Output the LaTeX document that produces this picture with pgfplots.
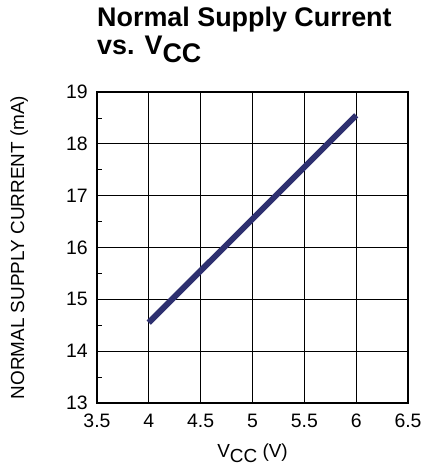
\documentclass[border=0pt]{standalone}
\usepackage{pgfplots}
\pgfplotsset{compat=1.18}
\usepackage{fontspec}
\setmainfont{Liberation Sans}
\definecolor{linenavy}{HTML}{2E3070}
\newcommand{\sub}[1]{\raisebox{-0.27em}{#1}}
\begin{document}
\begin{tikzpicture}[x=1bp,y=1bp]
\path[use as bounding box] (0,0) rectangle (424,468);
\node[anchor=base west,inner sep=0pt,font=\bfseries\fontsize{27}{27}\selectfont] at (97,441) {Normal Supply Current};
\node[anchor=base west,inner sep=0pt,font=\bfseries\fontsize{27}{27}\selectfont] at (97,413) {vs. V\sub{CC}};
\begin{axis}[
  at={(97bp,65bp)}, anchor=south west,
  scale only axis, width=311bp, height=311bp,
  xmin=3.5, xmax=6.5, ymin=13, ymax=19,
  xtick={3.5,4,4.5,5,5.5,6,6.5},
  ytick={13,14,15,16,17,18,19},
  minor y tick num=1,
  xtick pos=bottom, ytick pos=left,
  tick align=inside,
  major tick length=0pt, minor tick length=5bp,
  every minor tick/.style={black, line width=0.8bp},
  grid=major,
  major grid style={black, line width=0.9bp},
  axis line style={black, line width=1.8bp},
  /pgf/number format/assume math mode=true,
  tick label style={font=\fontsize{19.5}{19.5}\selectfont, inner sep=0pt},
  xticklabel style={anchor=base, yshift=-25bp},
  yticklabel style={anchor=east, xshift=-9bp},
  xlabel={V\sub{CC} (V)},
  ylabel={NORMAL SUPPLY CURRENT (mA)},
  label style={font=\fontsize{19}{19}\selectfont},
  xlabel style={at={(axis description cs:0.5,-0.174)}, anchor=base, inner sep=0pt},
  ylabel style={at={(axis description cs:-0.25,0.5)}, anchor=center, inner sep=0pt},
]
\addplot[color=linenavy, line width=6bp, line cap=butt] coordinates {(4,14.55) (6,18.55)};
\end{axis}
\end{tikzpicture}
\end{document}
